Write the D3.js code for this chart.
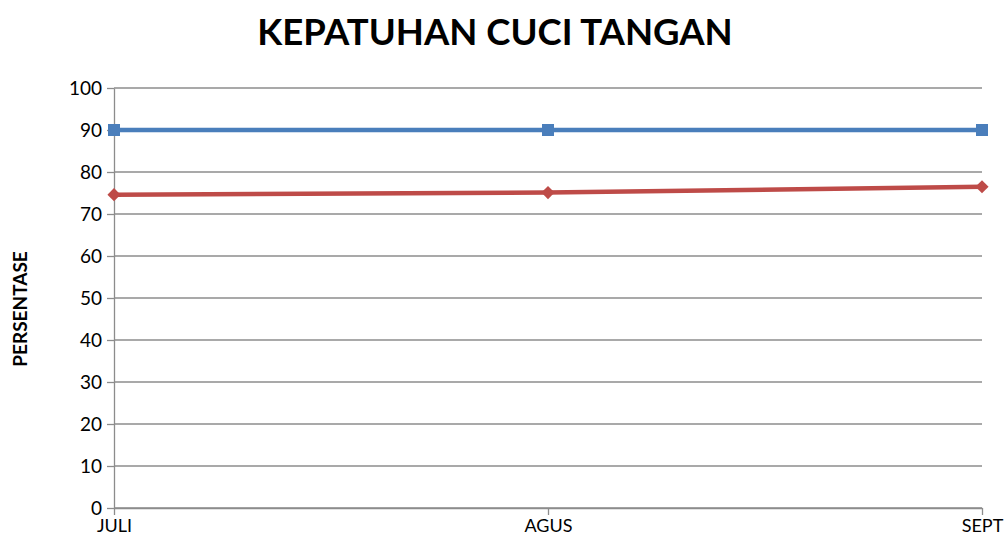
<!DOCTYPE html>
<html>
<head>
<meta charset="utf-8">
<script src="https://cdn.jsdelivr.net/npm/d3@7"></script>
<style>
  body { margin: 0; background: #fff; }
  text { font-family: Lato, "Open Sans", sans-serif; }
</style>
</head>
<body>
<div id="chart"></div>
<script>
var months = ["JULI", "AGUS", "SEPT"];
var blueValues = [90, 90, 90];
var redValues = [74.6, 75.1, 76.5];
var yTicks = [0, 10, 20, 30, 40, 50, 60, 70, 80, 90, 100];

var width = 1006, height = 542;
var plotLeft = 114, plotRight = 982, plotTop = 88, plotBottom = 508;
var gridColor = "#8c8c8c";

var svg = d3.select("#chart").append("svg")
  .attr("width", width).attr("height", height);

var x = d3.scalePoint().domain(months).range([plotLeft, plotRight]);
var y = d3.scaleLinear().domain([0, 100]).range([plotBottom, plotTop]);

// horizontal gridlines
svg.append("g").selectAll("line")
  .data(yTicks)
  .enter().append("line")
  .attr("x1", plotLeft).attr("x2", plotRight)
  .attr("y1", function(d){ return y(d); })
  .attr("y2", function(d){ return y(d); })
  .style("stroke", gridColor).style("stroke-width", 1.3);

// y axis
var yAxis = svg.append("g")
  .attr("transform", "translate(" + plotLeft + ",0)")
  .call(d3.axisLeft(y).tickValues(yTicks).tickSize(7).tickPadding(5).tickSizeOuter(0));
yAxis.select(".domain").style("stroke", gridColor).style("stroke-width", 1.3);
yAxis.selectAll(".tick line").style("stroke", gridColor).style("stroke-width", 1.3);
yAxis.selectAll("text").style("font-size", "19px").style("fill", "#000")
  .style("font-family", "Lato, sans-serif");

// x axis
var xAxis = svg.append("g")
  .attr("transform", "translate(0," + plotBottom + ")")
  .call(d3.axisBottom(x).tickSize(7).tickPadding(4).tickSizeOuter(0));
xAxis.select(".domain").style("stroke", gridColor).style("stroke-width", 1.3);
xAxis.selectAll(".tick line").style("stroke", gridColor).style("stroke-width", 1.3);
xAxis.selectAll("text").style("font-size", "18px").style("fill", "#000")
  .style("font-family", "Lato, sans-serif");

var line = d3.line()
  .x(function(d, i){ return x(months[i]); })
  .y(function(d){ return y(d); });

// red series
svg.append("path").datum(redValues)
  .attr("d", line).attr("fill", "none")
  .style("stroke", "#BE4B48").style("stroke-width", 4.5);
svg.selectAll(".redPt").data(redValues).enter().append("path")
  .attr("class", "redPt")
  .attr("d", d3.symbol().type(d3.symbolDiamond2).size(110))
  .attr("transform", function(d, i){ return "translate(" + x(months[i]) + "," + y(d) + ")"; })
  .style("fill", "#BE4B48");

// blue series
svg.append("path").datum(blueValues)
  .attr("d", line).attr("fill", "none")
  .style("stroke", "#4A7EBB").style("stroke-width", 4.5);
svg.selectAll(".bluePt").data(blueValues).enter().append("rect")
  .attr("class", "bluePt")
  .attr("x", function(d, i){ return x(months[i]) - 6; })
  .attr("y", function(d){ return y(d) - 6; })
  .attr("width", 12).attr("height", 12)
  .style("fill", "#4A7EBB");

// title
svg.append("text")
  .attr("x", 495).attr("y", 45)
  .attr("text-anchor", "middle")
  .style("font-size", "36.5px").style("font-weight", "bold")
  .text("KEPATUHAN CUCI TANGAN");

// y label
svg.append("text")
  .attr("transform", "translate(27,309) rotate(-90)")
  .attr("text-anchor", "middle")
  .style("font-size", "19px").style("font-weight", "bold")
  .text("PERSENTASE");
</script>
</body>
</html>
